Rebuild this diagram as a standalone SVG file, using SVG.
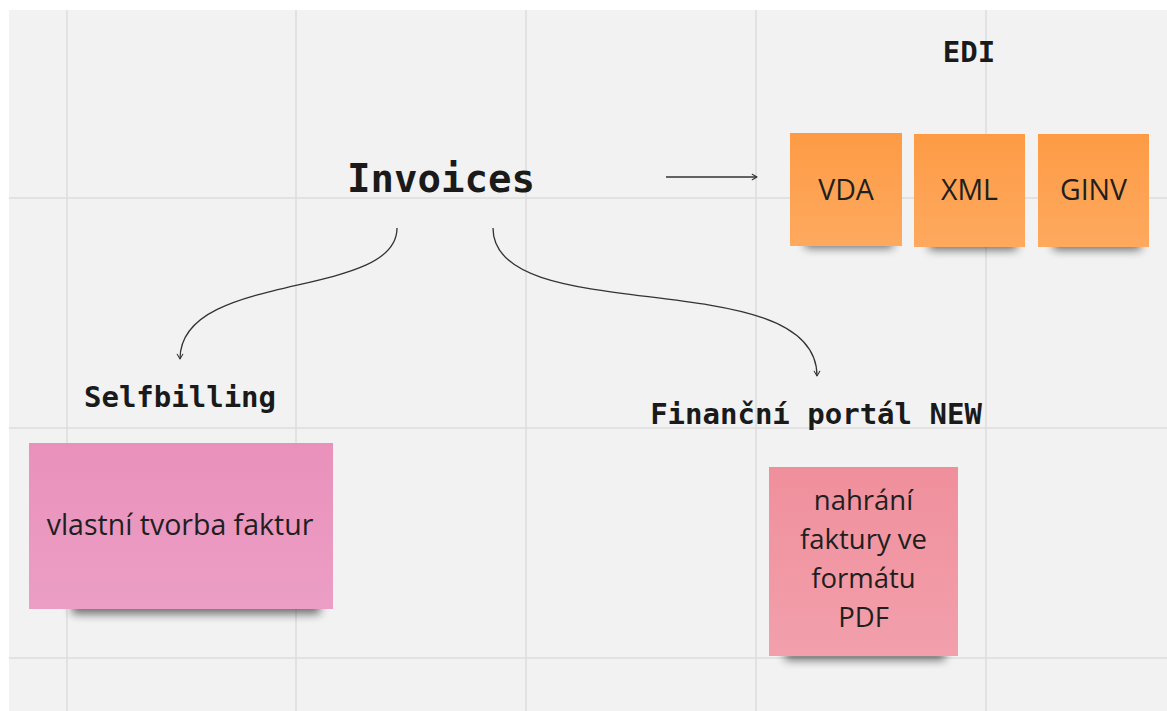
<svg xmlns="http://www.w3.org/2000/svg" width="1167" height="711" viewBox="0 0 1167 711">
<defs>
<style>
.grid{stroke:#dcdcdc;stroke-width:1.5;fill:none}
.conn{stroke:#333;stroke-width:1.3;fill:none}
.head{stroke:#333;stroke-width:1.3;fill:none;stroke-linecap:round;stroke-linejoin:round}
.title{font-family:"DejaVu Sans Mono","Liberation Mono",monospace;font-weight:bold;fill:#1a1a1a}
.note{font-family:"Open Sans","Noto Sans",sans-serif;fill:#1f1f1f;text-anchor:middle}
.shadow{fill:#000;opacity:0.55;filter:url(#blur)}
</style>
<filter id="blur" x="-20%" y="-100%" width="140%" height="300%"><feGaussianBlur stdDeviation="5"/></filter>
<linearGradient id="gOrange" x1="0" y1="0" x2="0" y2="1"><stop offset="0" stop-color="#fd9b45"/><stop offset="1" stop-color="#fea95f"/></linearGradient>
<linearGradient id="gPink" x1="0" y1="0" x2="0" y2="1"><stop offset="0" stop-color="#e991bb"/><stop offset="1" stop-color="#ec9ec5"/></linearGradient>
<linearGradient id="gRed" x1="0" y1="0" x2="0" y2="1"><stop offset="0" stop-color="#f08f9c"/><stop offset="1" stop-color="#f2a0ac"/></linearGradient>
<marker id="arrow" viewBox="0 0 10 10" refX="9" refY="5" markerWidth="8" markerHeight="8" orient="auto" markerUnits="userSpaceOnUse"><path d="M3,1.5 L9,5 L3,8.5" class="head"/></marker>
</defs>
<rect x="0" y="0" width="1167" height="711" fill="#ffffff"/>
<rect x="9" y="10" width="1158" height="701" fill="#f2f2f2"/>
<g id="grid">
<line class="grid" x1="67" y1="10" x2="67" y2="711"/>
<line class="grid" x1="296" y1="10" x2="296" y2="711"/>
<line class="grid" x1="526" y1="10" x2="526" y2="711"/>
<line class="grid" x1="756" y1="10" x2="756" y2="711"/>
<line class="grid" x1="986" y1="10" x2="986" y2="711"/>
<line class="grid" x1="9" y1="198" x2="1167" y2="198"/>
<line class="grid" x1="9" y1="428" x2="1167" y2="428"/>
<line class="grid" x1="9" y1="658" x2="1167" y2="658"/>
</g>
<g id="connectors">
<path class="conn" d="M666,177 L757,177" marker-end="url(#arrow)"/>
<path class="conn" d="M397,228 C397,300 180,270 180,359" marker-end="url(#arrow)"/>
<path class="conn" d="M493,228 C493,330 817,262 817,376" marker-end="url(#arrow)"/>
</g>
<g id="invoices"><text class="title" x="441" y="192" font-size="39" text-anchor="middle">Invoices</text></g>
<g id="edi"><text class="title" x="969" y="62" font-size="29" text-anchor="middle">EDI</text></g>
<g id="selfbilling"><text class="title" x="180" y="407" font-size="29" text-anchor="middle">Selfbilling</text></g>
<g id="financni-portal"><text class="title" x="816" y="424" font-size="29" text-anchor="middle">Finanční portál NEW</text></g>
<g id="note-vda">
<rect class="shadow" x="805" y="234" width="88" height="14"/>
<rect x="790" y="133" width="112" height="113" fill="url(#gOrange)"/>
<text class="note" x="846" y="200" font-size="28.5">VDA</text>
</g>
<g id="note-xml">
<rect class="shadow" x="929" y="236" width="88" height="14"/>
<rect x="914" y="134" width="111" height="113" fill="url(#gOrange)"/>
<text class="note" x="969.5" y="200" font-size="28.5">XML</text>
</g>
<g id="note-ginv">
<rect class="shadow" x="1053" y="236" width="88" height="14"/>
<rect x="1038" y="134" width="111" height="113" fill="url(#gOrange)"/>
<text class="note" x="1093.5" y="200" font-size="28.5">GINV</text>
</g>
<g id="note-selfbilling">
<rect class="shadow" x="72" y="596" width="248" height="18"/>
<rect x="29" y="443" width="304" height="166" fill="url(#gPink)"/>
<text class="note" x="180" y="535" font-size="28.5">vlastní tvorba faktur</text>
</g>
<g id="note-portal">
<rect class="shadow" x="785" y="644" width="160" height="16"/>
<rect x="769" y="467" width="189" height="189" fill="url(#gRed)"/>
<text class="note" font-size="27.5"><tspan x="863.5" y="510">nahrání</tspan><tspan x="863.5" y="549">faktury ve</tspan><tspan x="863.5" y="588">formátu</tspan><tspan x="863.5" y="627">PDF</tspan></text>
</g>
</svg>
